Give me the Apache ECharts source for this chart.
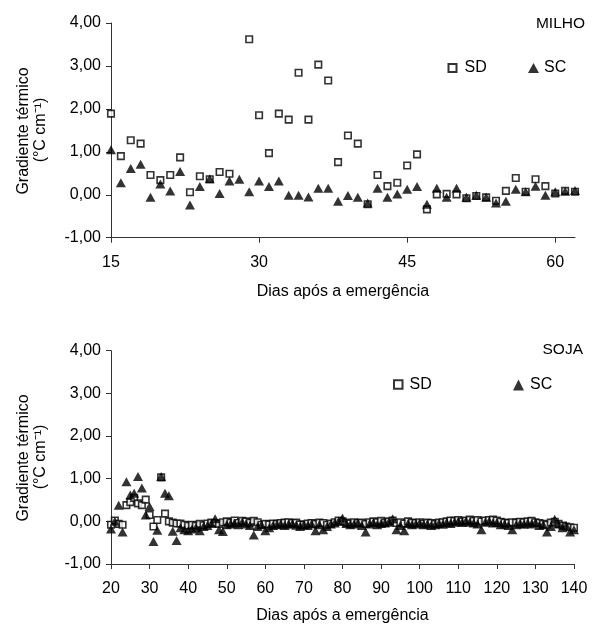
<!DOCTYPE html>
<html><head><meta charset="utf-8">
<script src="https://cdn.jsdelivr.net/npm/echarts@6/dist/echarts.min.js"></script>
<style>html,body{margin:0;padding:0;background:#fff}#c{width:595px;height:626px}</style>
</head><body><div id="c"></div>
<script>
// ---- MILHO (top panel) ----
const milhoDias = [15,16,17,18,19,20,21,22,23,24,25,26,27,28,29,30,31,32,33,34,35,36,37,38,39,40,41,42,43,44,45,46,47,48,49,50,51,52,53,54,55,56,57,58,59,60,61,62];
const milhoSD = [1.89,0.90,1.27,1.19,0.46,0.34,0.46,0.87,0.06,0.43,0.36,0.53,0.49,null,3.62,1.85,0.97,1.89,1.75,2.84,1.75,3.03,2.66,0.76,1.38,1.19,-0.22,0.46,0.20,0.28,0.68,0.94,-0.34,0.01,0.02,0.01,-0.08,-0.03,-0.06,-0.14,0.09,0.39,0.07,0.36,0.20,0.03,0.09,0.07];
const milhoSC = [1.05,0.28,0.61,0.71,-0.06,0.25,0.09,0.54,-0.24,0.19,0.37,0.03,0.32,0.36,0.07,0.32,0.19,0.32,-0.01,-0.01,-0.05,0.15,0.15,-0.15,-0.02,-0.06,-0.19,0.15,-0.06,0.02,0.13,0.19,-0.22,0.15,-0.06,0.15,-0.06,-0.01,-0.06,-0.19,-0.15,0.13,0.07,0.20,-0.01,0.07,0.08,0.10];
const milhoTicks = [15,30,45,60];

// ---- SOJA (bottom panel) ----
const sojaDias = [20,21,22,23,24,25,26,27,28,29,30,31,32,33,34,35,36,37,38,39,40,
41,42,43,44,45,46,47,48,49,50,51,52,53,54,55,56,57,58,59,60,
61,62,63,64,65,66,67,68,69,70,71,72,73,74,75,76,77,78,79,80,
81,82,83,84,85,86,87,88,89,90,91,92,93,94,95,96,97,98,99,100,
101,102,103,104,105,106,107,108,109,110,111,112,113,114,115,116,117,118,119,120,
121,122,123,124,125,126,127,128,129,130,131,132,133,134,135,136,137,138,139,140];
const sojaSD = [-0.08,0.02,-0.06,-0.08,0.38,0.45,0.55,0.42,0.38,0.51,0.15,-0.12,0.03,1.03,0.18,0.00,-0.03,-0.05,-0.05,-0.08,-0.10,
-0.08,-0.10,-0.06,-0.09,-0.05,-0.03,-0.04,-0.06,-0.02,0.00,
-0.03,0.02,-0.04,0.01,0.00,-0.03,0.01,-0.02,-0.08,-0.06,
-0.07,-0.05,-0.06,-0.04,-0.03,-0.02,-0.04,-0.03,-0.07,-0.08,
-0.05,-0.04,-0.06,-0.03,-0.04,-0.08,-0.05,-0.02,0.02,0.00,
-0.03,-0.05,-0.02,-0.04,-0.03,-0.06,-0.02,0.00,-0.02,0.01,
-0.03,0.00,0.02,-0.04,-0.02,-0.05,0.00,-0.03,-0.04,-0.02,
-0.05,-0.03,-0.04,-0.06,-0.03,-0.02,0.00,0.02,0.01,0.03,
0.00,0.02,0.04,0.01,0.03,0.00,0.02,0.03,0.04,0.02,
-0.01,-0.03,-0.04,-0.02,-0.03,-0.01,-0.02,0.00,0.01,-0.02,
-0.04,-0.06,-0.08,-0.03,-0.01,-0.06,-0.10,-0.12,-0.14,-0.15];
const sojaSC = [-0.18,0.00,0.38,-0.25,0.93,0.62,0.66,1.05,0.78,0.15,0.35,-0.47,-0.21,1.05,0.66,0.60,-0.23,-0.45,-0.15,-0.20,-0.22,
-0.18,-0.15,-0.22,-0.12,-0.10,-0.05,0.06,-0.20,-0.24,-0.08,
-0.06,-0.04,-0.08,-0.02,-0.06,-0.10,-0.32,-0.12,-0.08,-0.22,
-0.15,-0.10,-0.08,-0.06,-0.10,-0.07,-0.05,-0.09,-0.12,-0.08,
-0.10,-0.06,-0.22,-0.08,-0.20,-0.12,-0.06,-0.04,0.00,0.08,
-0.05,-0.08,-0.06,-0.04,-0.10,-0.25,-0.06,-0.03,-0.08,-0.05,
-0.04,-0.02,0.06,-0.20,-0.10,-0.22,-0.05,-0.08,-0.06,-0.04,
-0.08,-0.06,-0.10,-0.08,-0.05,-0.07,-0.03,-0.05,-0.02,0.00,
-0.03,0.01,-0.02,-0.04,-0.06,-0.20,-0.02,0.00,-0.04,-0.03,
-0.08,-0.06,-0.10,-0.20,-0.08,-0.05,-0.07,-0.04,-0.06,-0.03,
-0.10,-0.08,-0.25,-0.12,0.05,-0.06,-0.15,-0.10,-0.25,-0.20];
const sojaTicks = [20,30,40,50,60,70,80,90,100,110,120,130,140];

const yTicks = [-1,0,1,2,3,4];
const seriesNames = ['SD','SC'];
const panelTitles = ['MILHO','SOJA'];
const xTitle = 'Dias após a emergência';
const yTitle1 = 'Gradiente térmico';
const yTitle2 = '(°C cm⁻¹)';

const FONT = "'Liberation Sans', Arial, sans-serif";
const AX = '#333';

function pairs(xs, ys){ const out=[]; xs.forEach((x,i)=>{ if(ys[i]!==null) out.push([x, ys[i]]); }); return out; }
const fmt = v => v.toFixed(2).replace('.', ',');

function xAxisCfg(gi, min, max, ticks, gap){
  return {
    type:'value', gridIndex:gi, min:min, max:max, interval:ticks[1]-ticks[0],
    axisLine:{onZero:false, lineStyle:{color:AX, width:1}},
    axisTick:{show:true, length:5, lineStyle:{color:AX}, customValues:ticks},
    axisLabel:{color:'#000', fontFamily:FONT, fontSize:16, margin:17, customValues:ticks},
    splitLine:{show:false},
    name:xTitle, nameLocation:'middle', nameGap:gap,
    nameTextStyle:{color:'#000', fontFamily:FONT, fontSize:16, verticalAlign:'top', lineHeight:16}
  };
}
function yAxisCfg(gi){
  return {
    type:'value', gridIndex:gi, min:yTicks[0], max:yTicks[yTicks.length-1], interval:1,
    axisLine:{show:true, onZero:false, lineStyle:{color:AX, width:1}},
    axisTick:{show:true, length:5, lineStyle:{color:AX}},
    axisLabel:{color:'#000', fontFamily:FONT, fontSize:16, margin:10, formatter:fmt},
    splitLine:{show:false}
  };
}
const sdStyle = {symbol:'rect', symbolSize:6.5, itemStyle:{color:'#fff', borderColor:'#000', borderWidth:1.6}};
const scStyle = {symbol:'triangle', symbolSize:[10,9], itemStyle:{color:'#000'}};

function legendCfg(name, icon, left, top, w, h, padLeft){
  return {show:true, data:[{name:name, icon:icon}], left:left, top:top, padding:0,
    itemWidth:w, itemHeight:h, selectedMode:false,
    textStyle:{fontFamily:FONT, fontSize:16, color:'#000', lineHeight:16, padding:[0,0,0,padLeft]}};
}

function yName(x, y, text){
  return {type:'text', x:x, y:y, rotation:Math.PI/2,
    style:{text:text, x:0, y:0, align:'center', verticalAlign:'middle', font:'16px ' + FONT, fill:'#000'}};
}

const chart = echarts.init(document.getElementById('c'), null, {renderer:'canvas'});
chart.setOption({
  animation:false,
  backgroundColor:'#fff',
  title:[
    {text:panelTitles[0], right:10, top:16, padding:0, textStyle:{fontFamily:FONT, fontSize:15.5, fontWeight:'normal', color:'#000', lineHeight:16}},
    {text:panelTitles[1], right:12, top:342, padding:0, textStyle:{fontFamily:FONT, fontSize:15.5, fontWeight:'normal', color:'#000', lineHeight:16}}
  ],
  legend:[
    legendCfg(seriesNames[0], 'rect', 447.5, 60, 8, 8, 3),
    legendCfg(seriesNames[1], 'triangle', 528, 60, 11, 10, 0),
    legendCfg(seriesNames[0], 'rect', 393, 376.5, 8.5, 8.5, 2),
    legendCfg(seriesNames[1], 'triangle', 513, 377, 11, 11, 1)
  ],
  grid:[
    {left:111, right:20, top:23, height:214.7},
    {left:111, right:21, top:350.7, height:213.3}
  ],
  xAxis:[
    xAxisCfg(0, 15, 62, milhoTicks, 46),
    xAxisCfg(1, 20, 140, sojaTicks, 44)
  ],
  yAxis:[ yAxisCfg(0), yAxisCfg(1) ],
  series:[
    Object.assign({type:'scatter', name:seriesNames[0], xAxisIndex:0, yAxisIndex:0, data:pairs(milhoDias, milhoSD)}, sdStyle),
    Object.assign({type:'scatter', name:seriesNames[1], xAxisIndex:0, yAxisIndex:0, data:pairs(milhoDias, milhoSC)}, scStyle),
    Object.assign({type:'scatter', name:seriesNames[0], xAxisIndex:1, yAxisIndex:1, data:pairs(sojaDias, sojaSD)}, sdStyle),
    Object.assign({type:'scatter', name:seriesNames[1], xAxisIndex:1, yAxisIndex:1, data:pairs(sojaDias, sojaSC)}, scStyle)
  ],
  graphic:[
    yName(24, 131, yTitle1),
    yName(41, 130, yTitle2),
    yName(24, 458, yTitle1),
    yName(41, 457, yTitle2)
  ]
});
</script>
</body></html>
